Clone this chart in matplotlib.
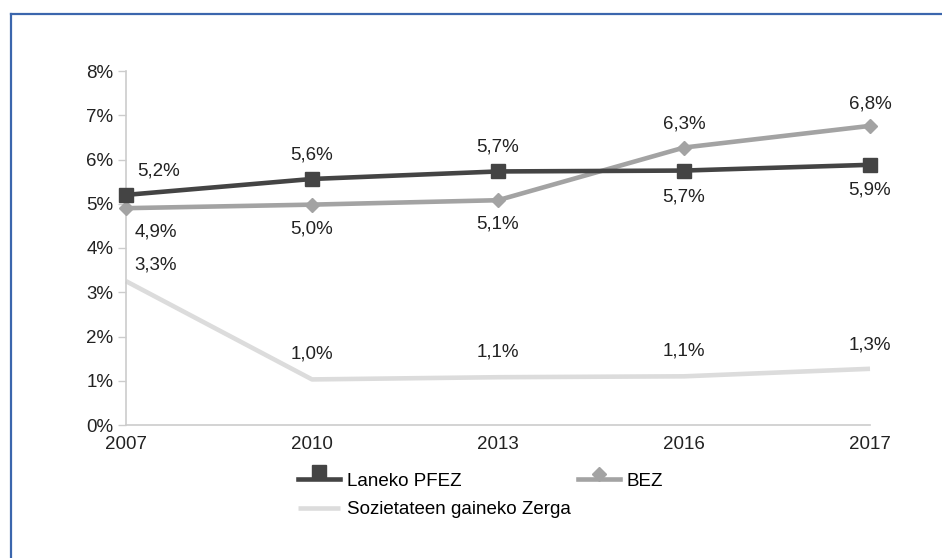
import matplotlib.pyplot as plt
from matplotlib.lines import Line2D
from matplotlib.legend_handler import HandlerLine2DCompound

plt.rcParams['font.family'] = ['Liberation Sans', 'DejaVu Sans']

years = ["2007", "2010", "2013", "2016", "2017"]
pfez = [5.2, 5.6, 5.7, 5.7, 5.9]
pfez_plot = [5.2, 5.56, 5.73, 5.75, 5.88]
bez = [4.9, 5.0, 5.1, 6.3, 6.8]
bez_plot = [4.9, 4.98, 5.08, 6.27, 6.76]
soz = [3.3, 1.0, 1.1, 1.1, 1.3]
soz_plot = [3.25, 1.03, 1.08, 1.1, 1.27]

# label offsets in pixels (dx, dy)
pfez_off = [(33, 24), (0, 24), (0, 24), (0, -26), (0, -25)]
bez_off = [(30, -24), (0, -24), (0, -24), (0, 24), (0, 22)]
soz_off = [(30, 16), (0, 25), (0, 25), (0, 25), (0, 24)]


class RaisedMarker(HandlerLine2DCompound):
    # legend marker sits on top of the line, like the office chart
    def create_artists(self, legend, orig_handle, xdescent, ydescent, width, height,
                       fontsize, trans):
        arts = super().create_artists(legend, orig_handle, xdescent, ydescent, width,
                                      height, fontsize, trans)
        line, mk = arts
        ms = orig_handle.get_markersize()
        mk.set_ydata([y + ms * 0.55 for y in mk.get_ydata()])
        return arts


fs = 13.5
fig = plt.figure(figsize=(9.42, 5.58), dpi=100)
ax = fig.add_axes([126 / 942, 1 - 425 / 558, (870 - 126) / 942, (425 - 71) / 558])

x = list(range(len(years)))
dark = '#444444'
mid = '#a3a3a3'
light = '#dcdcdc'

ax.plot(x, soz_plot, color=light, linewidth=3.3, solid_capstyle='butt', zorder=2,
        clip_on=False, label="Sozietateen gaineko Zerga")
ax.plot(x, bez_plot, color=mid, linewidth=3.3, marker='D', markersize=7, zorder=3,
        clip_on=False, label="BEZ")
ax.plot(x, pfez_plot, color=dark, linewidth=3.3, marker='s', markersize=10, zorder=4,
        clip_on=False, label="Laneko PFEZ")

for vals, pos, offs in [(pfez, pfez_plot, pfez_off), (bez, bez_plot, bez_off), (soz, soz_plot, soz_off)]:
    for i in x:
        txt = f"{vals[i]:.1f}%".replace('.', ',')
        dx, dy = offs[i]
        ax.annotate(txt, (i, pos[i]), xytext=(dx * 0.72, dy * 0.72), textcoords='offset points',
                    ha='center', va='center', fontsize=fs, color='#222222')

ax.set_xlim(0, 4)
ax.set_ylim(0, 8)
ax.set_xticks(x)
ax.set_xticklabels(years)
ax.set_yticks(range(0, 9))
ax.set_yticklabels([f"{v}%" for v in range(0, 9)])
ax.tick_params(axis='x', length=0, pad=8, labelsize=fs, colors='#222222')
ax.tick_params(axis='y', length=6, width=1, color='#cccccc', pad=3, labelsize=fs,
               labelcolor='#222222')
for s in ['top', 'right']:
    ax.spines[s].set_visible(False)
for s in ['left', 'bottom']:
    ax.spines[s].set_color('#cccccc')
    ax.spines[s].set_linewidth(1.2)
ax.set_facecolor('none')

handles, labels = ax.get_legend_handles_labels()
order = [2, 0, 1]  # column-major fill: Laneko, Soz | BEZ
leg = fig.legend([handles[i] for i in order], [labels[i] for i in order],
                 loc='upper left', bbox_to_anchor=(281 / 942, 1 - 456 / 558),
                 ncol=2, frameon=False, fontsize=fs, handlelength=2.25,
                 columnspacing=0.4, handletextpad=0.35, labelspacing=0.6,
                 handler_map={Line2D: RaisedMarker()})

# outer frame
fc = '#3b66ad'
fig.add_artist(Line2D([11 / 942, 11 / 942], [0, 1 - 14 / 558], color=fc, linewidth=1.6,
                      transform=fig.transFigure))
fig.add_artist(Line2D([11 / 942, 1], [1 - 14 / 558, 1 - 14 / 558], color=fc, linewidth=1.6,
                      transform=fig.transFigure))

fig.savefig("out.png", dpi=100)
